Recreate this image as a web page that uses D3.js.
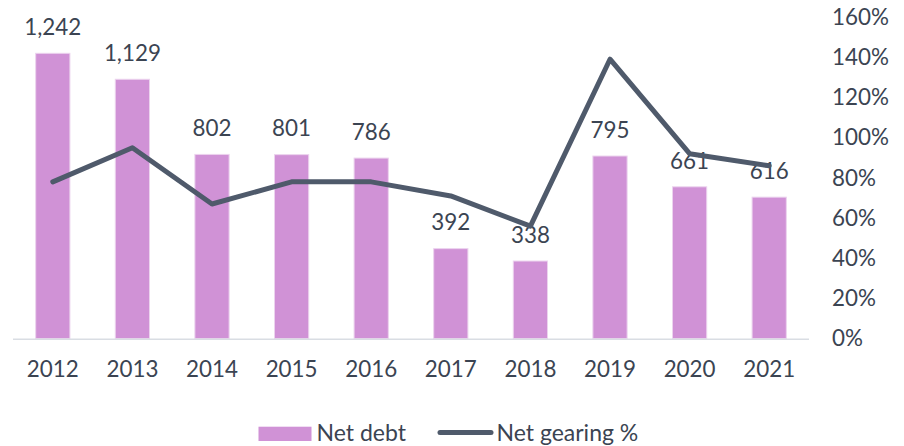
<!DOCTYPE html>
<html><head><meta charset="utf-8">
<script src="https://cdn.jsdelivr.net/npm/d3@7"></script>
<style>body{margin:0;background:#fff}svg{display:block}</style>
</head><body><svg id="c" width="904" height="446"></svg>
<script>
const years = ["2012","2013","2014","2015","2016","2017","2018","2019","2020","2021"];
const netDebt = [1242,1129,802,801,786,392,338,795,661,616];
const netGearing = [78,95,67,78,78,71,56,139,92,86];
const pctTicks = [0,20,40,60,80,100,120,140,160];
const seriesNames = ["Net debt","Net gearing %"];

const svg = d3.select("#c");
const font = "Lato, 'Open Sans', sans-serif";
const fs = 22.4;
const textColor = "#3b4452";
const barColor = "#d092d6";
const lineColor = "#4f5a6b";

const x = d3.scaleBand().domain(years).range([13, 809]).paddingInner(0.57).paddingOuter(0.285);
const yL = d3.scaleLinear().domain([0, 1400]).range([338.7, 17]);
const yR = d3.scaleLinear().domain([0, 160]).range([338.7, 17]);

// bars
svg.append("g").selectAll("rect").data(years).join("rect")
  .attr("x", d => x(d)).attr("width", x.bandwidth())
  .attr("y", (d,i) => yL(netDebt[i])).attr("height", (d,i) => yL(0) - yL(netDebt[i]))
  .attr("fill", barColor).attr("stroke", "#ecd3ee").attr("stroke-width", 1);

// baseline axis
svg.append("line").attr("x1", 13).attr("x2", 809).attr("y1", 339.3).attr("y2", 339.3)
  .attr("stroke", "#d9dde3").attr("stroke-width", 1.5);

// x labels
const xAxis = svg.append("g").attr("transform", "translate(0,339)")
  .call(d3.axisBottom(x).tickSize(0).tickPadding(22.5));
xAxis.select(".domain").remove();
xAxis.selectAll("text").attr("font-family", font).attr("font-size", fs).attr("fill", textColor);

// right axis
const rAxis = svg.append("g").attr("transform", "translate(832,0)")
  .call(d3.axisRight(yR).tickValues(pctTicks).tickSize(0).tickPadding(0).tickFormat(d => d + "%"));
rAxis.select(".domain").remove();
rAxis.selectAll("text").attr("font-family", font).attr("font-size", fs).attr("fill", textColor);

// bar value labels
svg.append("g").selectAll("text").data(years).join("text")
  .attr("x", d => x(d) + x.bandwidth()/2)
  .attr("y", (d,i) => yL(netDebt[i]) - 18.3)
  .attr("text-anchor", "middle").attr("font-family", font).attr("font-size", fs).attr("fill", textColor)
  .text((d,i) => d3.format(",")(netDebt[i]));

// line
const line = d3.line().x((d,i) => x(years[i]) + x.bandwidth()/2).y(d => yR(d));
svg.append("path").datum(netGearing).attr("d", line)
  .attr("fill", "none").attr("stroke", lineColor).attr("stroke-width", 5)
  .attr("stroke-linejoin", "round").attr("stroke-linecap", "round");

// legend
const lg = svg.append("g");
lg.append("rect").attr("x", 258.5).attr("y", 426.7).attr("width", 53).attr("height", 14.3).attr("fill", barColor);
lg.append("text").attr("x", 316.5).attr("y", 440.5).attr("font-family", font).attr("font-size", 23).attr("fill", textColor).text(seriesNames[0]);
lg.append("line").attr("x1", 440).attr("x2", 491).attr("y1", 432.5).attr("y2", 432.5)
  .attr("stroke", lineColor).attr("stroke-width", 5).attr("stroke-linecap", "round");
lg.append("text").attr("x", 496.5).attr("y", 440.5).attr("font-family", font).attr("font-size", 23).attr("fill", textColor).text(seriesNames[1]);
</script></body></html>
